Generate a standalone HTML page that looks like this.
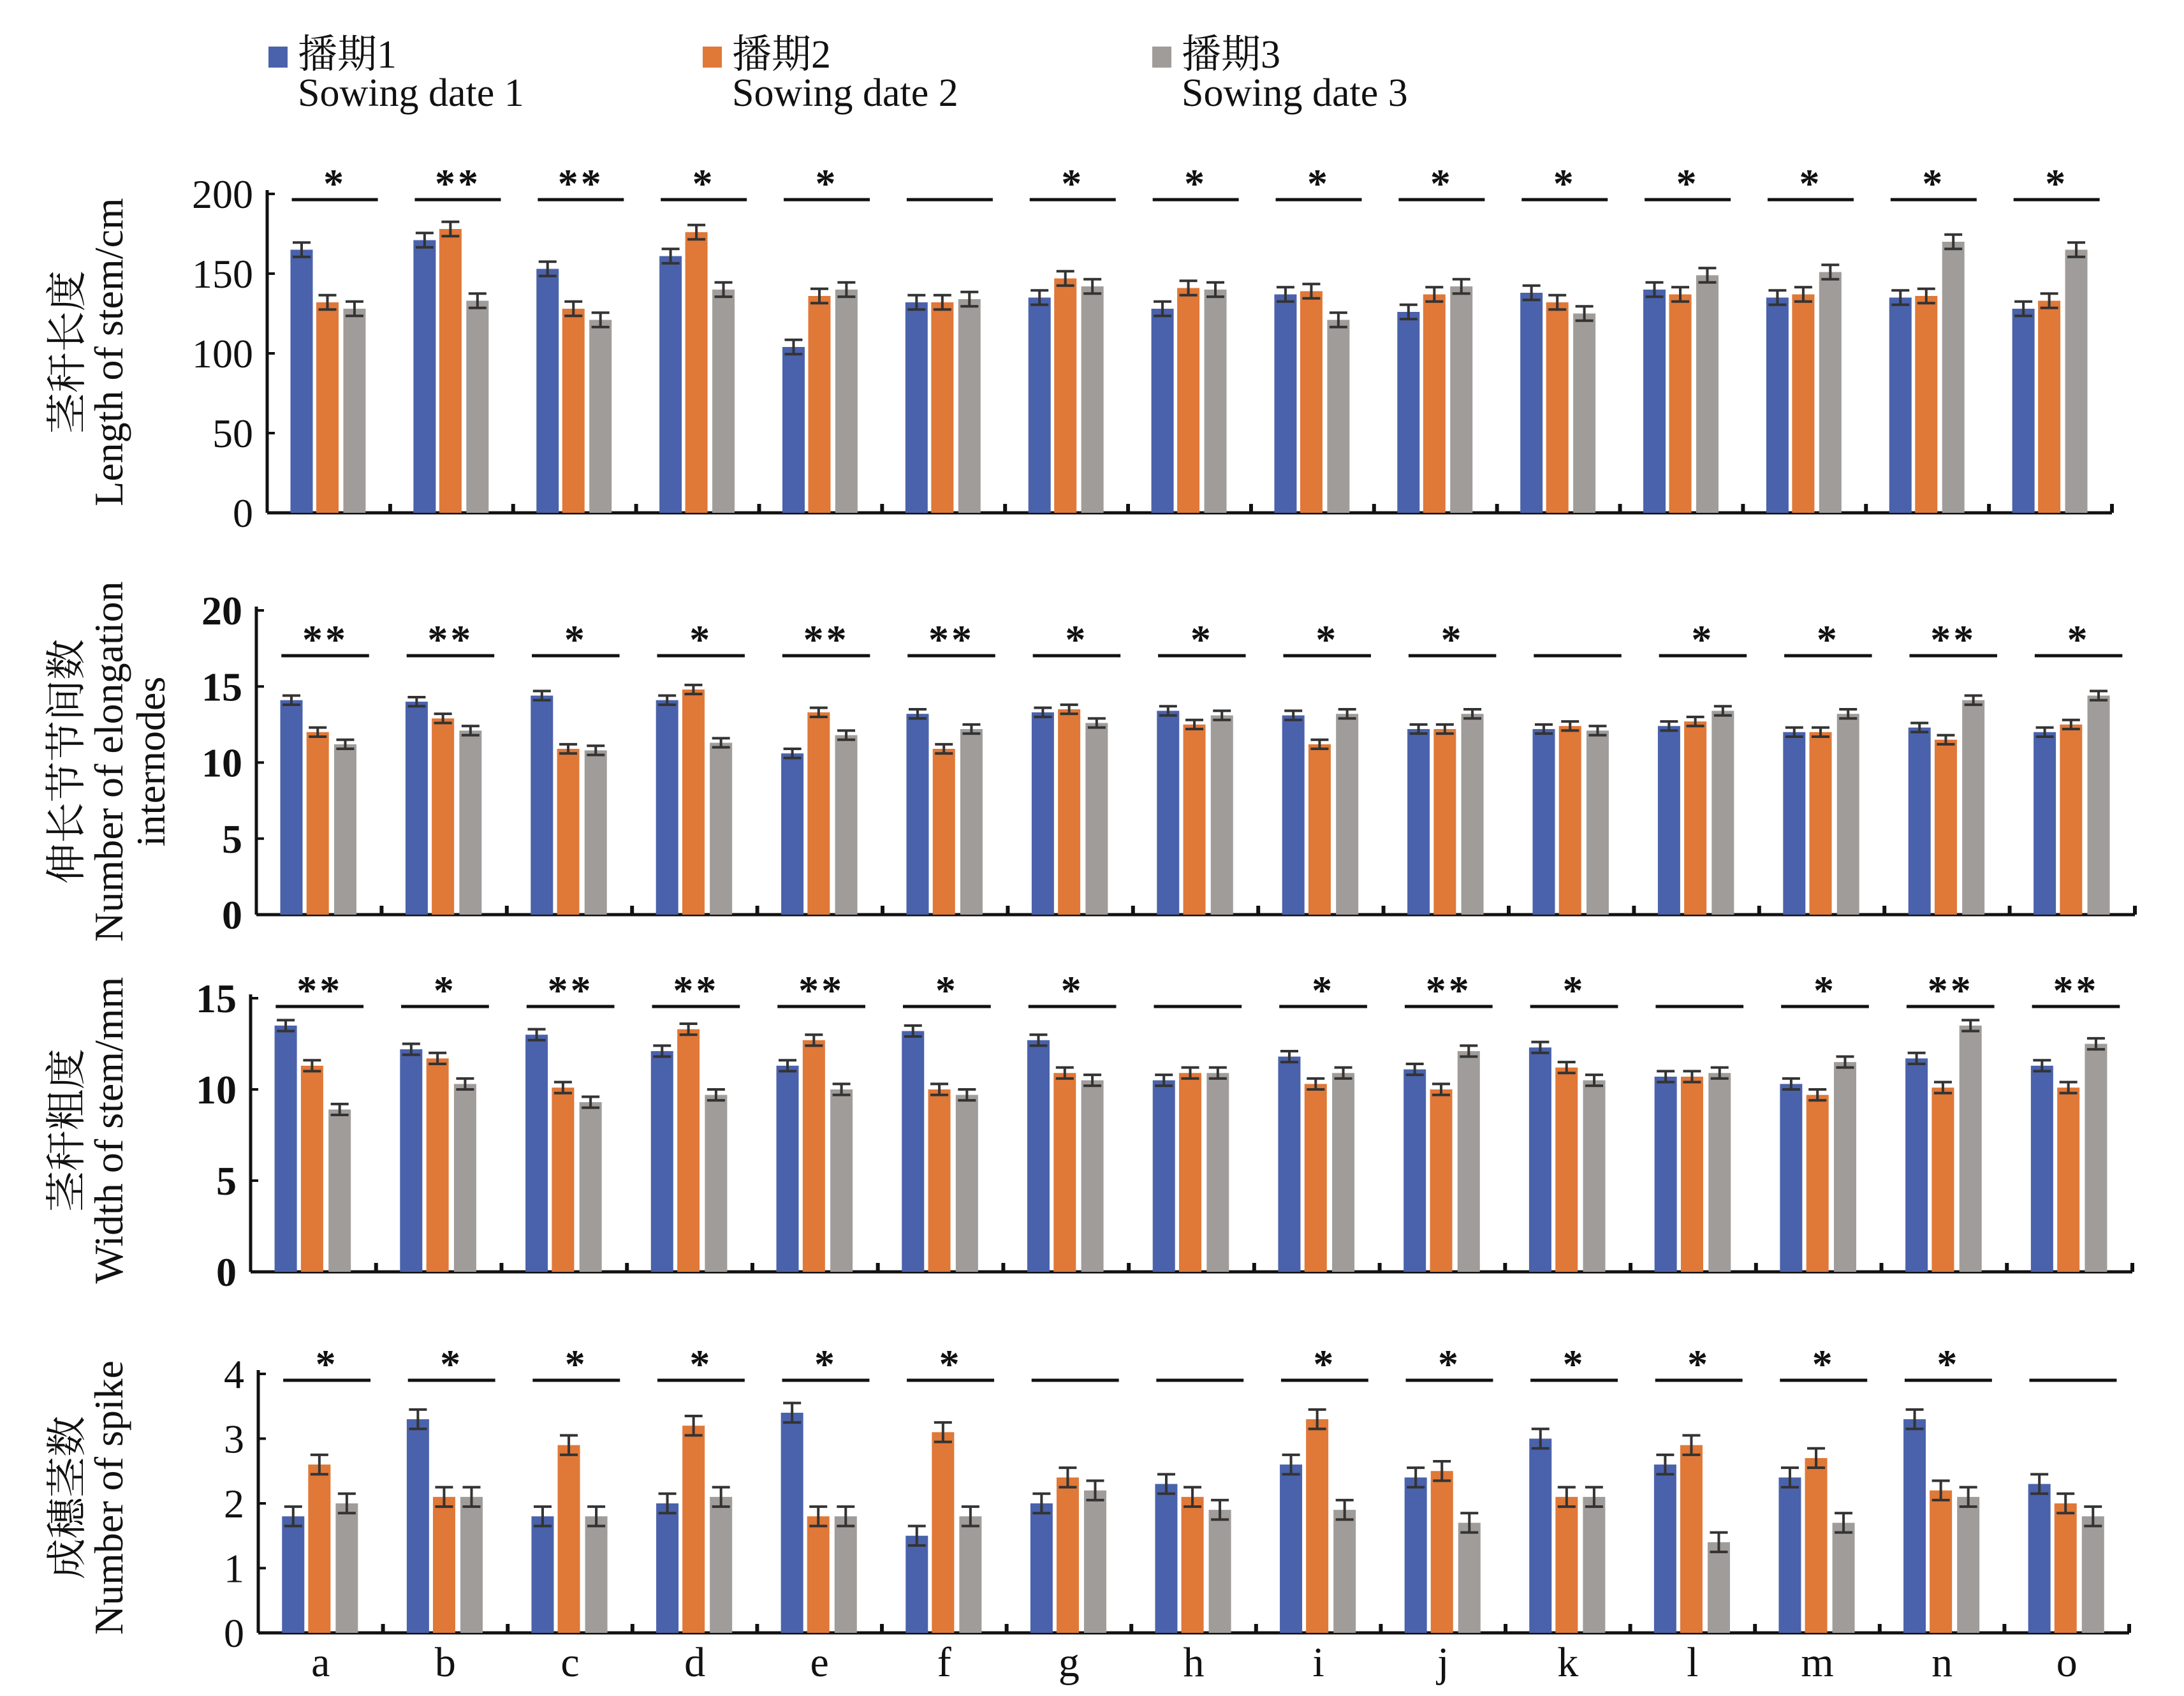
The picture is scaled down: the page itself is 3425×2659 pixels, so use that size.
<!DOCTYPE html>
<html><head><meta charset="utf-8"><style>
html,body{margin:0;padding:0;background:#fff;}
svg{display:block;}
text{font-family:"Liberation Serif","Noto Serif CJK SC",serif;fill:#111;}
</style></head><body>
<svg id="s" width="3425" height="2659" viewBox="0 0 3425 2659" xmlns="http://www.w3.org/2000/svg">
<rect width="3425" height="2659" fill="#fff"/>
<rect x="421" y="73" width="30" height="33" fill="#4a62ab"/>
<text x="467" y="106" font-size="62">播期1</text>
<text x="467" y="166" font-size="62">Sowing date 1</text>
<rect x="1102" y="73" width="30" height="33" fill="#e07838"/>
<text x="1148" y="106" font-size="62">播期2</text>
<text x="1148" y="166" font-size="62">Sowing date 2</text>
<rect x="1807" y="73" width="30" height="33" fill="#a09c9a"/>
<text x="1853" y="106" font-size="62">播期3</text>
<text x="1853" y="166" font-size="62">Sowing date 3</text>
</svg>
<script>
const svg=document.getElementById('s');
const C=['#4a62ab','#e07838','#a09c9a'];
const P=[
{x0:419,x1:3312,y0:804,yt:304,max:200,ticks:[0,50,100,150,200],bold:false,err:4.5,
 lab:[[107,'茎秆长度'],[172,'Length of stem/cm']],lc:552,
 v:[[165,132,128],[171,178,133],[153,128,121],[161,176,140],[104,136,140],[132,132,134],[135,147,142],[128,141,140],[137,139,121],[126,137,142],[138,132,125],[140,137,149],[135,137,151],[135,136,170],[128,133,165]],
 s:['*','**','**','*','*','','*','*','*','*','*','*','*','*','*'],ly:313},
{x0:402,x1:3348,y0:1434,yt:957,max:20,ticks:[0,5,10,15,20],bold:true,err:0.3,
 lab:[[106,'伸长节节间数'],[172,'Number of elongation'],[238,'internodes']],lc:1194,
 v:[[14.1,12.0,11.2],[14.0,12.9,12.1],[14.4,10.9,10.8],[14.1,14.8,11.3],[10.6,13.3,11.8],[13.2,10.9,12.2],[13.3,13.5,12.6],[13.4,12.5,13.1],[13.1,11.2,13.2],[12.2,12.2,13.2],[12.2,12.4,12.1],[12.4,12.7,13.4],[12.0,12.0,13.2],[12.3,11.5,14.1],[12.0,12.5,14.4]],
 s:['**','**','*','*','**','**','*','*','*','*','','*','*','**','*'],ly:1028},
{x0:393,x1:3344,y0:1994,yt:1565,max:15,ticks:[0,5,10,15],bold:true,err:0.3,
 lab:[[106,'茎秆粗度'],[172,'Width of stem/mm']],lc:1772,
 v:[[13.5,11.3,8.9],[12.2,11.7,10.3],[13.0,10.1,9.3],[12.1,13.3,9.7],[11.3,12.7,10.0],[13.2,10.0,9.7],[12.7,10.9,10.5],[10.5,10.9,10.9],[11.8,10.3,10.9],[11.1,10.0,12.1],[12.3,11.2,10.5],[10.7,10.7,10.9],[10.3,9.7,11.5],[11.7,10.1,13.5],[11.3,10.1,12.5]],
 s:['**','*','**','**','**','*','*','','*','**','*','','*','**','**'],ly:1578},
{x0:405,x1:3339,y0:2560,yt:2154,max:4,ticks:[0,1,2,3,4],bold:false,err:0.15,
 lab:[[107,'成穗茎数'],[172,'Number of spike']],lc:2348,
 v:[[1.8,2.6,2.0],[3.3,2.1,2.1],[1.8,2.9,1.8],[2.0,3.2,2.1],[3.4,1.8,1.8],[1.5,3.1,1.8],[2.0,2.4,2.2],[2.3,2.1,1.9],[2.6,3.3,1.9],[2.4,2.5,1.7],[3.0,2.1,2.1],[2.6,2.9,1.4],[2.4,2.7,1.7],[3.3,2.2,2.1],[2.3,2.0,1.8]],
 s:['*','*','*','*','*','*','','','*','*','*','*','*','*',''],ly:2164}
];
let h='';
const cats='abcdefghijklmno';
P.forEach((p,pi)=>{
 const gw=(p.x1-p.x0)/15, sc=(p.y0-p.yt)/p.max;
 h+=`<line x1="${p.x0}" y1="${p.yt-6}" x2="${p.x0}" y2="${p.y0}" stroke="#111" stroke-width="5"/>`;
 h+=`<line x1="${p.x0}" y1="${p.y0}" x2="${p.x1}" y2="${p.y0}" stroke="#111" stroke-width="5"/>`;
 p.ticks.forEach(t=>{const y=p.y0-t*sc;
  h+=`<line x1="${p.x0}" y1="${y}" x2="${p.x0+12}" y2="${y}" stroke="#111" stroke-width="4"/>`;
  h+=`<text x="${p.x0-22}" y="${y+22}" font-size="64" text-anchor="end" ${p.bold?'font-weight="bold"':''}>${t}</text>`;});
 for(let g=1;g<=15;g++){const x=p.x0+g*gw;h+=`<line x1="${x}" y1="${p.y0}" x2="${x}" y2="${p.y0-14}" stroke="#111" stroke-width="6"/>`;}
 p.v.forEach((vals,g)=>{const gx=p.x0+g*gw;
  const offs=[gw*0.28,gw*0.49,gw*0.71];
  vals.forEach((v,k)=>{const cx=gx+offs[k],w=35,y=p.y0-v*sc;
   h+=`<rect x="${cx-w/2}" y="${y}" width="${w}" height="${p.y0-y}" fill="${C[k]}"/>`;
   const e=p.err*sc;
   h+=`<path d="M${cx} ${y-e}V${y+e}M${cx-14} ${y-e}H${cx+14}M${cx-14} ${y+e}H${cx+14}" stroke="#333" stroke-width="4" fill="none"/>`;});
  const l1=gx+gw*0.2,l2=gx+gw*0.9;
  h+=`<line x1="${l1}" y1="${p.ly}" x2="${l2}" y2="${p.ly}" stroke="#111" stroke-width="5"/>`;
  if(p.s[g])h+=`<text x="${(l1+l2)/2}" y="${p.ly-4}" font-size="64" font-weight="bold" text-anchor="middle" letter-spacing="4">${p.s[g]}</text>`;
  if(pi==3)h+=`<text x="${gx+gw*0.5}" y="2628" font-size="66" text-anchor="middle">${cats[g]}</text>`;
 });
 p.lab.forEach(([x,t])=>{h+=`<text transform="translate(${x+20},${p.lc}) rotate(-90)" font-size="64" text-anchor="middle">${t}</text>`;});
});
svg.insertAdjacentHTML('beforeend',h);
</script>
</body></html>
